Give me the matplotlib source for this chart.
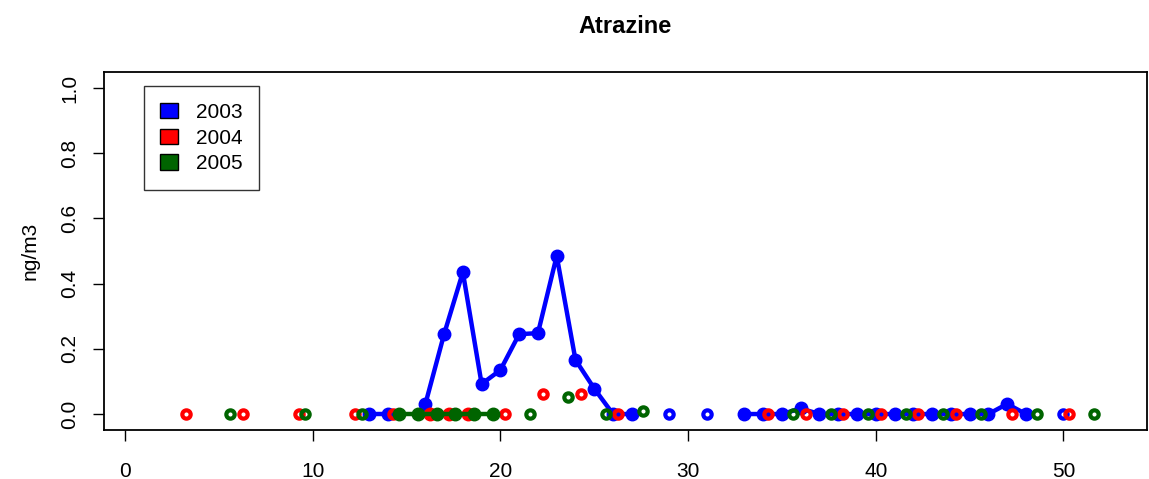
import matplotlib.pyplot as plt
import matplotlib.patches as mpatches
import numpy as np

plt.rcParams['font.family'] = ['Liberation Sans', 'DejaVu Sans']

# weekly atrazine concentrations (ng/m3), x = week of year
weeks_2003 = [13, 14, 16, 17, 18, 19, 20, 21, 22, 23, 24, 25, 26, 27, 29, 31,
              33, 34, 35, 36, 37, 38, 39, 40, 41, 42, 43, 44, 45, 46, 47, 48, 50]
conc_2003 = [0, 0, 0.03, 0.245, 0.435, 0.092, 0.135, 0.245, 0.248, 0.485, 0.166, 0.078, 0, 0, 0, 0,
             0, 0, 0, 0.017, 0, 0, 0, 0, 0, 0, 0, 0, 0, 0, 0.031, 0, 0]

weeks_2004 = [3.27, 6.27, 9.27, 12.27, 14.27, 16.27, 17.27, 18.27, 20.27, 22.27, 24.27, 26.27,
              34.27, 36.27, 38.27, 40.27, 42.27, 44.27, 47.27, 50.27]
conc_2004 = [0, 0, 0, 0, 0, 0, 0, 0, 0, 0.062, 0.062, 0,
             0, 0, 0, 0, 0, 0, 0, 0]

weeks_2005 = [5.6, 9.6, 12.6, 14.6, 15.6, 16.6, 17.6, 18.6, 19.6, 21.6, 23.6, 25.6, 27.6,
              35.6, 37.6, 39.6, 41.6, 43.6, 45.6, 48.6, 51.6]
conc_2005 = [0, 0, 0, 0, 0, 0, 0, 0, 0, 0, 0.053, 0, 0.008,
             0, 0, 0, 0, 0, 0, 0, 0]

years = ['2003', '2004', '2005']
colors = ['blue', 'red', '#006400']


def draw_year(ax, x, y, col):
    x = np.asarray(x)
    y = np.asarray(y)
    # consecutive weeks are joined, lone samples shown as open rings
    cut = np.where(np.diff(x) > 1.5)[0] + 1
    for sx, sy in zip(np.split(x, cut), np.split(y, cut)):
        if len(sx) > 1:
            ax.plot(sx, sy, '-o', color=col, lw=3.2, ms=9)
        else:
            ax.plot(sx, sy, 'o', mfc='none', mec=col, mew=3, ms=6)


fig = plt.figure(figsize=(11.49, 4.79), dpi=100)
ax = fig.add_axes([104/1149, 49/479, 1043/1149, 358/479])

draw_year(ax, weeks_2003, conc_2003, colors[0])
draw_year(ax, weeks_2004, conc_2004, colors[1])
draw_year(ax, weeks_2005, conc_2005, colors[2])

ax.set_xlim(-1.12, 54.45)
ax.set_ylim(-0.049, 1.049)
ax.set_xticks([0, 10, 20, 30, 40, 50])
ax.set_yticks([0, 0.2, 0.4, 0.6, 0.8, 1.0])
ax.set_yticklabels(['0.0', '0.2', '0.4', '0.6', '0.8', '1.0'])
ax.tick_params(length=8, width=1, labelsize=15)
ax.tick_params(axis='x', pad=15)
ax.tick_params(axis='y', pad=10, labelrotation=90)
for t in ax.get_yticklabels():
    t.set_va('center')
for s in ax.spines.values():
    s.set_linewidth(1.3)

ax.set_title('Atrazine', fontsize=17, fontweight='bold', pad=28)
fig.text(30/1149, 1 - 251/479, 'ng/m3', rotation=90, ha='center', va='center', fontsize=15)

handles = [mpatches.Patch(facecolor=c, edgecolor='black', linewidth=1) for c in colors]
leg = ax.legend(handles, years, loc='upper left', bbox_to_anchor=(0.038, 0.961),
                borderaxespad=0, fancybox=False, edgecolor='black', fontsize=15,
                handlelength=0.85, handleheight=0.75, handletextpad=0.85,
                labelspacing=0.33, borderpad=0.8)
leg.get_frame().set_linewidth(1)

plt.savefig('out.png', dpi=100)
